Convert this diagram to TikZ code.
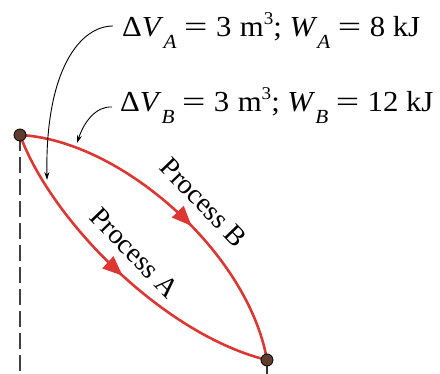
\documentclass[tikz,border=0pt]{standalone}
\usepackage{fontspec}
\setmainfont{Liberation Serif}
\usetikzlibrary{arrows.meta,decorations.markings}
\definecolor{procred}{RGB}{220,55,50}
\definecolor{dotbrown}{RGB}{95,60,45}
\newcommand\lsub[1]{\raisebox{-12pt}{\fontsize{20}{20}\selectfont\textit{#1}}}
\newcommand\lsup[1]{\raisebox{12pt}{\fontsize{18}{18}\selectfont #1}}
\newcommand\myeqsign{\hspace{7pt}\scalebox{1.35}[1]{=}\hspace{8pt}}
\begin{document}
\begin{tikzpicture}[x=1pt,y=-1pt,
  dot/.style={circle,draw=black,line width=0.8pt,fill=dotbrown,minimum size=12pt,inner sep=0pt},
  proc/.style={draw=procred,line width=2.6pt},
  leader/.style={draw=black,line width=0.9pt,-{Stealth[length=8pt,width=5pt]}},
  lab/.style={font=\fontsize{29}{29}\selectfont,anchor=base west,inner sep=0pt,xscale=1.06},
  ptext/.style={font=\fontsize{28}{28}\selectfont,anchor=base,inner sep=0pt,rotate=-46},
  midarrow/.style={postaction={decorate},decoration={markings,
     mark=at position #1 with {\arrow{Triangle[length=20pt,width=16pt]}}}}
]
\useasboundingbox (0,0) rectangle (440,374);
\coordinate (c1) at (20,135);
\coordinate (c2) at (267,360);
% dashed and small vertical lines
\coordinate (d1) at (20,374);
\coordinate (d2) at (267,374);
\draw[line width=1.1pt,dash pattern=on 16pt off 6pt,black!75] (c1) -- (d1);
\draw[line width=1.1pt,black!80] (c2) -- (d2);
% curves
\path[proc,midarrow=0.51,color=procred] (c1) .. controls (52,222) and (165,335) .. (c2);
\path[proc,midarrow=0.56,color=procred] (c1) .. controls (120,140) and (248,252) .. (c2);
% dots
\node[dot] (p1) at (c1) {};
\node[dot] (p2) at (c2) {};
% labels
\node[lab] (labA) at (122,37) {Δ\textit{V}\lsub{A}\myeqsign 3\hspace{8pt}m\lsup{3}; \textit{W}\lsub{A}\myeqsign 8 kJ};
\node[lab] (labB) at (120,112) {Δ\textit{V}\lsub{B}\myeqsign 3\hspace{8pt}m\lsup{3}; \textit{W}\lsub{B}\myeqsign 12 kJ};
\coordinate (sA) at (113,26);
\coordinate (tA) at (47,180);
\coordinate (sB) at (112,107);
\coordinate (tB) at (77,143);
\draw[leader] (sA) .. controls (80,26) and (45,70) .. (tA);
\draw[leader] (sB) .. controls (96,106) and (84,122) .. (tB);
% process texts
\node[ptext] (tpA) at (128,259) {Process A};
\node[ptext] (tpB) at (197,209) {Process B};
\end{tikzpicture}
\end{document}
